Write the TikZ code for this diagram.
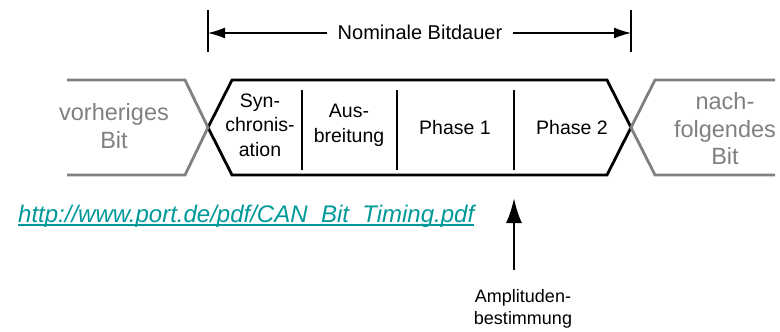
\documentclass[tikz,border=0pt]{standalone}
\usepackage{fontspec}
\setmainfont{Liberation Sans}
\usetikzlibrary{arrows.meta}
\definecolor{bitgray}{RGB}{128,128,128}
\definecolor{urlteal}{RGB}{0,153,153}
\tikzset{
  lbl/.style={inner sep=0pt, align=center, font=\fontsize{19.5}{24.5}\selectfont},
  graylbl/.style={inner sep=0pt, align=center, text=bitgray, font=\fontsize{23.5}{27.5}\selectfont},
  bitline/.style={line width=2.8pt, line join=miter},
  grayline/.style={line width=2.8pt, draw=bitgray},
  divider/.style={line width=1.4pt},
  dimline/.style={line width=1.3pt},
  dimarrow/.style={dimline, -{Latex[length=17pt,width=11pt]}},
  uparrow/.style={line width=2.6pt, -{Latex[length=25pt,width=16pt]}}
}
\begin{document}
\begin{tikzpicture}[x=1pt,y=-1pt]
\useasboundingbox (0,0) rectangle (780,332);
% dimension ticks
\coordinate (tickLtop) at (208,10); \coordinate (tickLbot) at (208,52);
\coordinate (tickRtop) at (631,10); \coordinate (tickRbot) at (631,52);
\coordinate (dimL) at (208,33); \coordinate (dimR) at (631,33);
\draw[dimline] (tickLtop) -- (tickLbot);
\draw[dimline] (tickRtop) -- (tickRbot);
\node[lbl, anchor=base, font=\fontsize{20}{24}\selectfont] (nominal) at (420,39) {Nominale Bitdauer};
\coordinate (nomLend) at (327,33); \coordinate (nomRstart) at (513,33);
\draw[dimarrow] (nomLend) -- (dimL);
\draw[dimarrow] (nomRstart) -- (dimR);
% black bit hexagon
\coordinate (hexL) at (208,127.5); \coordinate (hexTL) at (232,80);
\coordinate (hexTR) at (607,80); \coordinate (hexR) at (631,127.5);
\coordinate (hexBR) at (607,175); \coordinate (hexBL) at (232,175);
\draw[bitline] (hexL) -- (hexTL) -- (hexTR) -- (hexR) -- (hexBR) -- (hexBL) -- cycle;
% gray previous bit
\coordinate (prevTa) at (67,80); \coordinate (prevTb) at (185,80);
\coordinate (prevBb) at (185,175); \coordinate (prevBa) at (67,175);
\draw[grayline] (prevTa) -- (prevTb) -- (hexL) -- (prevBb) -- (prevBa);
% gray next bit
\coordinate (nextTa) at (655,80); \coordinate (nextTb) at (775,80);
\coordinate (nextBa) at (655,175); \coordinate (nextBb) at (775,175);
\draw[grayline] (nextTb) -- (nextTa) -- (hexR) -- (nextBa) -- (nextBb);
% dividers
\foreach \x/\n in {302/a,397/b,514/c}{
  \coordinate (div\n top) at (\x,90); \coordinate (div\n bot) at (\x,170);
  \draw[divider] (div\n top) -- (div\n bot);
}
% segment labels
\node[lbl] (sync) at (260,125) {Syn-\\chronis-\\ation};
\node[lbl] (prop) at (349,125.5) {Aus-\\breitung};
\node[lbl, anchor=base] (ph1) at (455,134) {Phase 1};
\node[lbl, anchor=base] (ph2) at (572,134) {Phase 2};
\node[graylbl] (prev) at (114,126) {vorheriges\\Bit};
\node[graylbl] (next) at (725,129) {nach-\\folgendes\\Bit};
% url
\node[inner sep=0pt, anchor=base west, text=urlteal, font=\fontsize{24}{28}\itshape] (url) at (18,222) {http://www.port.de/pdf/CAN\_Bit\_Timing.pdf};
\draw[urlteal, line width=1.8pt] ([yshift=-3pt]url.base west) -- ([yshift=-3pt]url.base east);
% sampling point arrow
\node[lbl, font=\fontsize{18}{21.5}\selectfont] (amp) at (523,309) {Amplituden-\\bestimmung};
\coordinate (ampfoot) at (514,270); \coordinate (amptip) at (514,198);
\draw[uparrow] (ampfoot) -- (amptip);
\end{tikzpicture}
\end{document}
